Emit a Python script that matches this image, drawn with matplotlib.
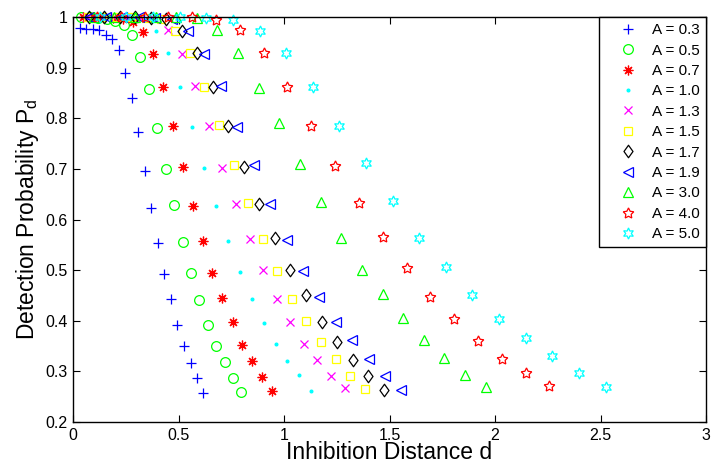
import matplotlib
matplotlib.use('Agg')
from matplotlib import pyplot as plt
from matplotlib.path import Path
from matplotlib.ticker import FormatStrFormatter

plt.rcParams['font.family'] = ['Liberation Sans', 'DejaVu Sans']
plt.rcParams['mathtext.default'] = 'regular'

# inhibition distance d and detection probability Pd, one pair per A
d_03 = [0.031, 0.062, 0.093, 0.124, 0.155, 0.186, 0.216, 0.247, 0.278, 0.309,
        0.340, 0.371, 0.402, 0.433, 0.464, 0.495, 0.526, 0.557, 0.588, 0.618]
p_03 = [0.978, 0.977, 0.976, 0.974, 0.965, 0.957, 0.935, 0.890, 0.841, 0.772,
        0.696, 0.622, 0.554, 0.492, 0.442, 0.392, 0.351, 0.317, 0.287, 0.258]

d_05 = [0.040, 0.080, 0.120, 0.160, 0.200, 0.240, 0.279, 0.319, 0.359, 0.399,
        0.439, 0.479, 0.519, 0.559, 0.599, 0.639, 0.679, 0.719, 0.758, 0.798]
p_05 = [1.0, 1.0, 0.999, 0.997, 0.993, 0.985, 0.964, 0.921, 0.858, 0.780,
        0.700, 0.628, 0.555, 0.495, 0.441, 0.392, 0.351, 0.319, 0.287, 0.259]

d_07 = [0.047, 0.094, 0.142, 0.189, 0.236, 0.283, 0.331, 0.378, 0.425, 0.472,
        0.520, 0.567, 0.614, 0.661, 0.708, 0.756, 0.803, 0.850, 0.897, 0.945]
p_07 = [1.0, 1.0, 1.0, 0.999, 0.997, 0.991, 0.971, 0.926, 0.862, 0.785,
        0.704, 0.626, 0.558, 0.495, 0.445, 0.397, 0.352, 0.320, 0.288, 0.261]

d_10 = [0.056, 0.113, 0.169, 0.226, 0.282, 0.339, 0.395, 0.452, 0.508, 0.565,
        0.621, 0.677, 0.734, 0.790, 0.847, 0.903, 0.960, 1.016, 1.073, 1.129]
p_10 = [1.0, 1.0, 1.0, 1.0, 0.999, 0.995, 0.972, 0.929, 0.862, 0.782,
        0.702, 0.626, 0.558, 0.497, 0.442, 0.396, 0.355, 0.321, 0.292, 0.261]

d_13 = [0.064, 0.129, 0.193, 0.257, 0.322, 0.386, 0.451, 0.515, 0.579, 0.644,
        0.708, 0.772, 0.837, 0.901, 0.965, 1.030, 1.094, 1.158, 1.223, 1.287]
p_13 = [1.0, 1.0, 1.0, 1.0, 0.999, 0.996, 0.974, 0.927, 0.864, 0.785,
        0.702, 0.631, 0.561, 0.500, 0.443, 0.397, 0.354, 0.322, 0.291, 0.267]

d_15 = [0.069, 0.138, 0.207, 0.277, 0.346, 0.415, 0.484, 0.553, 0.622, 0.691,
        0.761, 0.830, 0.899, 0.968, 1.037, 1.106, 1.175, 1.245, 1.314, 1.383]
p_15 = [1.0, 1.0, 1.0, 1.0, 0.999, 0.996, 0.972, 0.928, 0.862, 0.787,
        0.707, 0.632, 0.562, 0.498, 0.442, 0.400, 0.358, 0.325, 0.290, 0.265]

d_17 = [0.074, 0.147, 0.221, 0.294, 0.368, 0.442, 0.515, 0.589, 0.662, 0.736,
        0.810, 0.883, 0.957, 1.030, 1.104, 1.178, 1.251, 1.325, 1.398, 1.472]
p_17 = [1.0, 1.0, 1.0, 1.0, 0.999, 0.996, 0.972, 0.928, 0.862, 0.785,
        0.704, 0.630, 0.563, 0.500, 0.450, 0.398, 0.358, 0.322, 0.291, 0.264]

d_19 = [0.078, 0.156, 0.233, 0.311, 0.389, 0.467, 0.545, 0.622, 0.700, 0.778,
        0.856, 0.934, 1.012, 1.089, 1.167, 1.245, 1.323, 1.401, 1.478, 1.556]
p_19 = [1.0, 1.0, 1.0, 1.0, 0.999, 0.997, 0.972, 0.927, 0.864, 0.783,
        0.707, 0.630, 0.559, 0.499, 0.447, 0.398, 0.362, 0.324, 0.291, 0.264]

d_30 = [0.098, 0.196, 0.293, 0.391, 0.489, 0.587, 0.684, 0.782, 0.880, 0.978,
        1.075, 1.173, 1.271, 1.369, 1.467, 1.564, 1.662, 1.760, 1.858, 1.955]
p_30 = [1.0, 1.0, 1.0, 1.0, 1.0, 0.998, 0.975, 0.929, 0.860, 0.790,
        0.709, 0.635, 0.564, 0.500, 0.452, 0.405, 0.362, 0.326, 0.293, 0.270]

d_40 = [0.113, 0.226, 0.339, 0.452, 0.565, 0.677, 0.790, 0.903, 1.016, 1.129,
        1.242, 1.355, 1.468, 1.581, 1.694, 1.806, 1.919, 2.032, 2.145, 2.258]
p_40 = [1.0, 1.0, 1.0, 1.0, 1.0, 0.995, 0.974, 0.928, 0.862, 0.785,
        0.706, 0.633, 0.566, 0.505, 0.447, 0.403, 0.360, 0.325, 0.297, 0.271]

d_50 = [0.126, 0.252, 0.379, 0.505, 0.631, 0.757, 0.884, 1.010, 1.136, 1.262,
        1.389, 1.515, 1.641, 1.767, 1.893, 2.020, 2.146, 2.272, 2.398, 2.525]
p_50 = [1.0, 1.0, 1.0, 1.0, 0.999, 0.995, 0.973, 0.928, 0.862, 0.785,
        0.711, 0.636, 0.563, 0.507, 0.451, 0.403, 0.366, 0.330, 0.296, 0.270]

labels = ['A = 0.3', 'A = 0.5', 'A = 0.7', 'A = 1.0', 'A = 1.3', 'A = 1.5',
          'A = 1.7', 'A = 1.9', 'A = 3.0', 'A = 4.0', 'A = 5.0']
xs = [d_03, d_05, d_07, d_10, d_13, d_15, d_17, d_19, d_30, d_40, d_50]
ys = [p_03, p_05, p_07, p_10, p_13, p_15, p_17, p_19, p_30, p_40, p_50]

# matlab-like diamond (a bit wider than mpl's thin diamond)
diamond = Path([(0, 1), (0.72, 0), (0, -1), (-0.72, 0), (0, 1)],
               [Path.MOVETO, Path.LINETO, Path.LINETO, Path.LINETO, Path.CLOSEPOLY])

markers = ['+', 'o', (8, 2, 0), '.', 'x', 's', diamond, '<', '^', (5, 1, 0), (6, 1, 0)]
colors = ['#0000ff', '#00ff00', '#ff0000', '#00ffff', '#ff00ff', '#ffff00',
          '#000000', '#0000ff', '#00ff00', '#ff0000', '#00ffff']
sizes = [7, 7, 7, 4, 6, 6, 9, 7, 7, 8, 8]

fig = plt.figure(figsize=(7.13, 4.66), dpi=100)
ax = fig.add_axes([0.1024, 0.0944, 0.8878, 0.8691])

for x, y, m, c, s, lab in zip(xs, ys, markers, colors, sizes, labels):
    ax.plot(x, y, linestyle='none', marker=m, markersize=s, color=c,
            markerfacecolor=c if isinstance(m, str) and m == '.' else 'none',
            markeredgewidth=0.9, label=lab, clip_on=False)

ax.set_xlim(0, 3)
ax.set_ylim(0.2, 1)
ax.set_xticks([0, 0.5, 1, 1.5, 2, 2.5, 3])
ax.set_yticks([0.2, 0.3, 0.4, 0.5, 0.6, 0.7, 0.8, 0.9, 1])
ax.xaxis.set_major_formatter(FormatStrFormatter('%g'))
ax.yaxis.set_major_formatter(FormatStrFormatter('%g'))
ax.tick_params(direction='in', top=True, right=True, length=5, width=0.8,
               labelsize=11.5, pad=4)
for sp in ax.spines.values():
    sp.set_linewidth(1.0)

ax.set_xlabel('Inhibition Distance d', fontsize=16.5, labelpad=-1)
ax.set_ylabel('Detection Probability P$_d$', fontsize=16.5, labelpad=3)

leg = ax.legend(loc='upper right', borderaxespad=0, fancybox=False,
                edgecolor='black', fontsize=11, labelspacing=0.42,
                handlelength=3.0, handletextpad=0.1, borderpad=0.4,
                framealpha=1)
leg.get_frame().set_linewidth(1.0)

fig.savefig('out.png', dpi=100)
